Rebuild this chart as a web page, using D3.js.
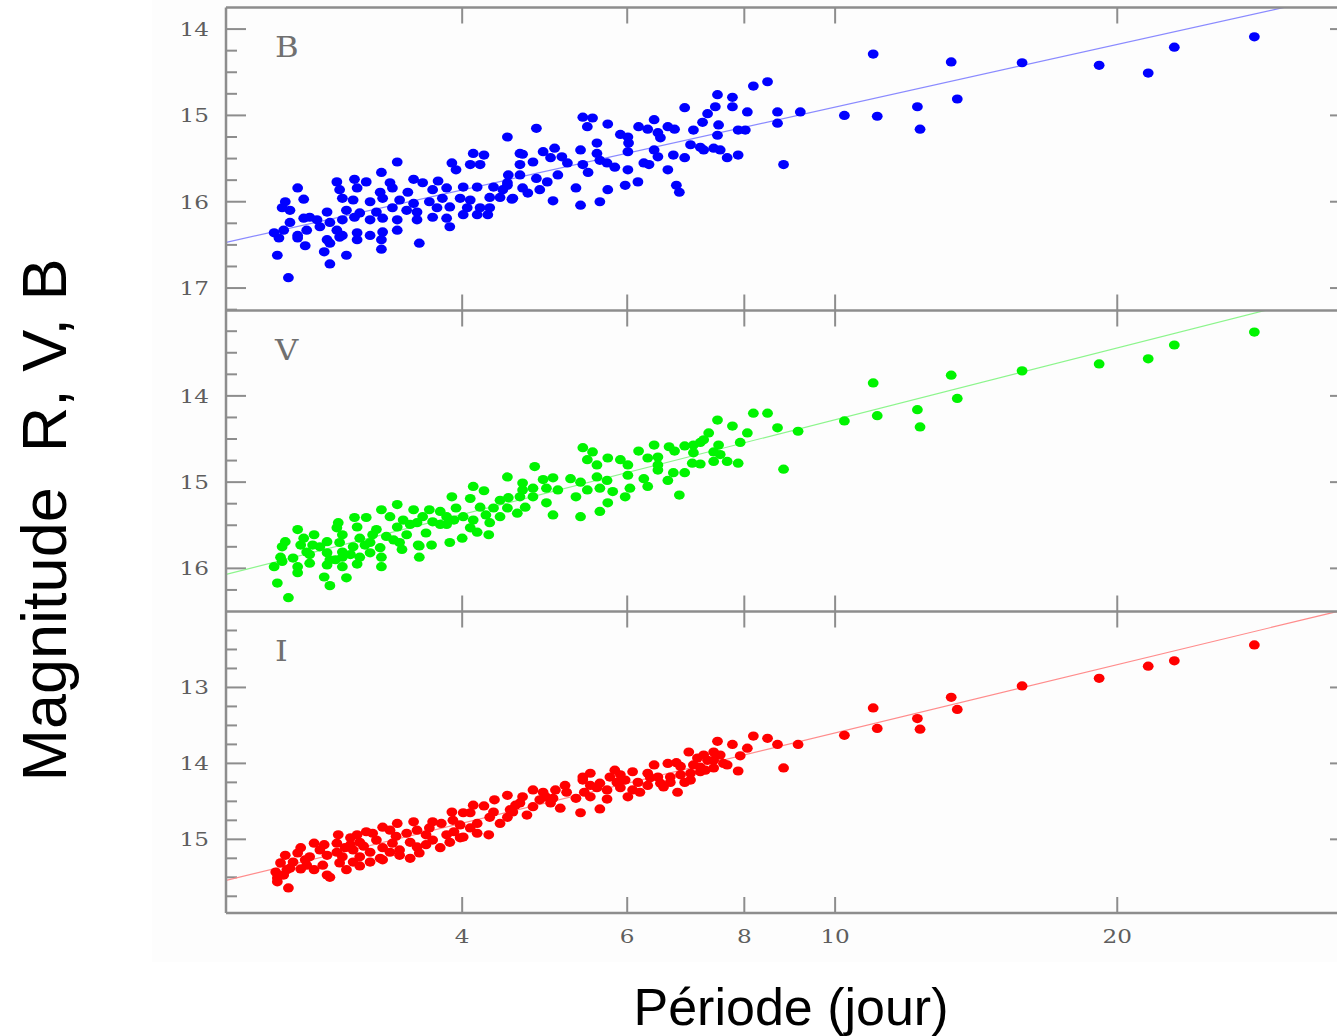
<!DOCTYPE html>
<html>
<head>
<meta charset="utf-8">
<script src="https://cdn.jsdelivr.net/npm/d3@7"></script>
<style>
  body{margin:0;background:#fff;}
  svg{display:block;}
</style>
</head>
<body>
<div id="myPlot"></div>
<script>
// period (days), magnitude
const starsB = [
  [4.47,15.25],[4.11,15.44],[4.22,15.46],[3.41,15.54],[3.90,15.55],[3.28,15.66],[3.94,15.63],[4.08,15.57],[4.18,15.57],[4.48,15.69],[4.61,15.44],
  [2.94,15.77],[3.07,15.74],[3.16,15.77],[3.35,15.78],[3.55,15.74],[3.63,15.78],[3.77,15.76],
  [2.67,15.84],[2.96,15.86],[3.09,15.84],[3.27,15.89],[3.37,15.84],[3.50,15.89],[3.72,15.86],[3.85,15.84],[4.01,15.83],[4.15,15.83],[4.32,15.83],[4.47,15.81],
  [2.71,15.97],[2.59,16.00],[2.98,15.96],[3.06,15.98],[3.19,16.00],[3.29,15.96],[3.43,15.98],[3.55,16.02],[3.69,16.00],[3.81,15.96],[3.98,15.96],[4.08,15.98],[4.28,15.95],[4.39,15.95],[4.53,15.96],
  [2.57,16.07],[2.62,16.10],[2.87,16.12],[3.01,16.10],[3.11,16.13],[3.24,16.12],[3.37,16.07],[3.49,16.10],[3.58,16.12],[3.76,16.07],[3.88,16.06],[4.05,16.07],[4.18,16.07],[4.28,16.07],
  [2.62,16.24],[2.71,16.19],[2.75,16.18],[2.80,16.21],[2.89,16.24],[2.98,16.21],[3.07,16.18],[3.19,16.21],[3.29,16.19],[3.41,16.21],[3.58,16.21],[3.72,16.18],[3.85,16.19],[4.01,16.15],[4.15,16.15],[4.26,16.15],
  [2.52,16.36],[2.58,16.33],[2.67,16.39],[2.73,16.33],[2.82,16.29],[2.94,16.33],[2.98,16.39],[3.09,16.36],[3.19,16.39],[3.29,16.35],[3.41,16.33],[3.88,16.29],
  [2.55,16.42],[2.67,16.42],[2.87,16.44],[2.96,16.41],[3.09,16.44],[3.28,16.44],
  [2.72,16.51],[2.89,16.48],[3.60,16.48],[2.85,16.58],[3.28,16.55],[2.54,16.62],[3.01,16.62],[2.89,16.72],[2.61,16.88],
  [8.18,14.66],[8.47,14.61],[7.49,14.76],[7.77,14.79],[6.91,14.91],[7.45,14.90],[7.77,14.90],[8.06,14.96],[8.68,14.96],[9.18,14.96],
  [5.38,15.02],[5.51,15.03],[7.31,14.98],[6.41,15.05],[7.22,15.08],[7.51,15.11],[8.68,15.09],
  [4.80,15.15],[5.44,15.13],[5.72,15.10],[6.17,15.13],[6.31,15.16],[6.63,15.13],[6.74,15.16],
  [5.90,15.22],[6.01,15.25],[6.47,15.20],[6.51,15.26],[7.06,15.17],[7.49,15.23],[7.88,15.17],[8.02,15.17],
  [5.57,15.32],[6.02,15.32],[7.01,15.34],[7.18,15.37],
  [4.64,15.45],[4.88,15.42],[5.02,15.38],[5.35,15.40],[5.57,15.44],[6.01,15.42],[6.41,15.40],[6.47,15.48],[6.72,15.46],[6.91,15.49],[7.24,15.40],[7.42,15.38],[7.54,15.40],[7.88,15.46],[7.67,15.49],
  [4.61,15.57],[4.76,15.54],[4.97,15.49],[5.11,15.48],[5.18,15.55],[5.38,15.57],[5.45,15.66],[5.61,15.52],[5.71,15.55],[5.82,15.60],[6.01,15.63],[6.25,15.55],[6.33,15.57],[6.63,15.63],[8.81,15.57],
  [4.47,15.78],[4.61,15.69],[4.80,15.73],[4.93,15.77],[5.06,15.69],[5.29,15.84],[5.72,15.86],[5.97,15.81],[6.16,15.77],[6.77,15.81],[6.82,15.89],
  [4.42,15.86],[4.64,15.84],[4.70,15.90],[4.84,15.86],
  [4.52,15.97],[5.00,15.99],[5.35,16.04],[5.61,16.00],
  [10.23,15.00],[10.98,14.29],[11.09,15.01],[12.24,14.90],[12.32,15.16],[13.30,14.38],[13.50,14.81],[15.83,14.39],[19.13,14.42],[21.58,14.51],[23.01,14.21],[28.01,14.09]
];
const starsV = [
  [4.47,14.94],[4.11,15.05],[4.22,15.10],[3.90,15.17],[3.41,15.26],[4.48,15.18],[4.08,15.19],
  [3.28,15.32],[3.55,15.32],[3.79,15.34],[3.94,15.30],[4.18,15.29],[4.32,15.30],
  [3.16,15.41],[3.07,15.41],[2.95,15.47],[3.35,15.40],[3.46,15.44],[3.63,15.40],[3.85,15.40],[4.01,15.40],[4.39,15.40],[4.58,15.36],
  [2.67,15.55],[2.94,15.53],[3.09,15.52],[3.24,15.55],[3.41,15.52],[3.58,15.47],[3.72,15.46],[3.85,15.49],[4.11,15.44],[4.28,15.47],
  [2.71,15.65],[2.87,15.69],[2.98,15.61],[3.11,15.65],[3.21,15.61],[3.32,15.63],[3.49,15.61],[3.66,15.59],[4.08,15.53],[4.15,15.58],
  [2.59,15.69],[2.77,15.73],[2.82,15.75],[2.96,15.70],[3.06,15.75],[3.19,15.70],[3.27,15.76],[3.43,15.70],[3.59,15.73],[3.71,15.73],[3.88,15.70],[4.00,15.65],[4.27,15.61],
  [2.57,15.75],[2.73,15.81],[2.87,15.82],[2.98,15.81],[3.19,15.82],[3.45,15.78],[3.60,15.74],
  [2.56,15.87],[2.64,15.88],[2.75,15.84],[2.89,15.90],[2.98,15.87],[3.11,15.87],[3.28,15.87],[3.60,15.87],
  [2.52,15.98],[2.57,15.92],[2.67,15.98],[2.75,15.94],[2.87,15.96],[2.98,15.98],[3.09,15.95],[3.28,15.98],
  [2.67,16.05],[2.85,16.10],[3.01,16.11],[2.54,16.17],[2.89,16.20],[2.61,16.34],
  [2.69,15.73],[2.78,15.61],[3.04,15.84],[3.15,15.73],[3.38,15.67],[3.52,15.49],[3.79,15.49],[3.92,15.44],[3.69,15.32],[4.24,15.38],[4.39,15.21],[2.93,15.90],
  [8.18,14.20],[8.47,14.20],[7.49,14.28],[7.77,14.35],[8.06,14.43],[8.68,14.37],[9.13,14.41],
  [7.33,14.43],[7.24,14.51],[7.51,14.57],[7.92,14.54],
  [5.38,14.60],[5.51,14.65],[6.17,14.64],[6.41,14.57],[6.65,14.59],[6.91,14.58],[7.06,14.57],[7.18,14.54],
  [5.44,14.74],[5.72,14.72],[5.90,14.74],[6.31,14.72],[6.47,14.71],[6.74,14.64],[7.06,14.66],[7.42,14.65],[7.54,14.68],
  [4.78,14.82],[5.57,14.80],[6.01,14.80],[6.47,14.80],[7.04,14.78],[7.18,14.79],[7.42,14.76],[7.67,14.76],[7.88,14.78],
  [4.64,15.01],[4.88,14.97],[5.00,14.95],[5.22,14.96],[5.35,15.00],[5.57,14.94],[5.71,14.98],[6.01,14.92],[6.25,14.96],[6.47,14.86],[6.72,14.89],[6.91,14.89],[6.63,14.98],
  [4.64,15.09],[4.76,15.07],[4.92,15.07],[5.06,15.09],[5.44,15.09],[5.61,15.07],[5.79,15.11],[6.04,15.07],[6.31,15.05],
  [4.61,15.17],[4.76,15.17],[5.29,15.17],[5.97,15.17],[6.82,15.15],
  [4.47,15.30],[4.67,15.29],[4.92,15.24],[5.72,15.24],[5.61,15.34],[5.35,15.40],[5.00,15.38],
  [8.81,14.85],[10.23,14.29],[10.98,13.85],[11.09,14.23],[12.24,14.16],[12.32,14.36],[13.30,13.76],[13.50,14.03],[15.83,13.71],[19.13,13.63],[21.58,13.57],[23.01,13.41],[28.01,13.26]
];
const starsI = [
  [4.47,14.42],[4.11,14.55],[4.22,14.56],[4.32,14.64],[4.53,14.64],[3.90,14.64],[4.01,14.65],[4.08,14.65],
  [3.72,14.77],[3.80,14.79],[3.91,14.75],[3.98,14.81],[4.15,14.79],[4.28,14.71],[4.47,14.71],
  [3.41,14.79],[3.55,14.77],[3.29,14.84],[3.16,14.90],
  [2.95,14.94],[3.09,14.94],[3.21,14.92],[3.35,14.88],[3.49,14.92],[3.58,14.88],[3.66,14.94],[3.85,14.94],[4.01,14.97],[4.15,14.92],[4.27,14.94],
  [2.94,15.05],[3.04,15.07],[3.11,15.04],[3.24,15.01],[3.37,15.05],[3.52,15.04],[3.72,15.01],[3.88,15.04],[3.98,14.98],
  [2.82,15.14],[2.94,15.17],[3.06,15.14],[3.19,15.17],[3.29,15.11],[3.43,15.14],[3.58,15.10],[3.66,15.07],
  [2.59,15.21],[2.67,15.18],[2.75,15.23],[2.87,15.21],[2.98,15.23],[3.11,15.23],[3.27,15.25],[3.43,15.21],[3.60,15.18],
  [2.56,15.31],[2.64,15.30],[2.73,15.34],[2.84,15.34],[2.96,15.31],[3.06,15.30],[3.19,15.30],
  [2.53,15.43],[2.60,15.40],[2.69,15.39],[2.87,15.47],[3.01,15.40],[3.29,15.27],
  [2.54,15.51],[2.89,15.50],[2.61,15.64],[2.54,15.56],
  [2.69,15.11],[2.78,15.05],[3.00,15.11],[3.14,15.09],[3.35,15.17],[3.52,15.25],[3.79,15.11],[3.92,14.90],[4.08,14.85],[4.39,14.79],[4.56,14.55],[4.33,14.48],
  [3.69,14.85],[3.40,14.96],[3.04,14.98],[2.85,15.07],[2.72,15.27],[2.62,15.38],[2.58,15.47],[2.78,15.40],[3.11,15.35],
  [8.18,13.64],[8.47,13.67],[8.68,13.75],[9.13,13.75],[7.49,13.71],[7.77,13.75],[8.06,13.80],
  [7.42,13.85],[7.24,13.89],[7.92,13.90],[7.54,13.89],[7.13,13.93],[7.31,13.96],[7.42,13.96],[7.60,14.00],[7.67,14.02],
  [6.41,14.02],[6.63,14.00],[6.84,14.04],[7.06,14.02],[7.18,14.05],[7.42,14.06],[7.18,14.11],[7.01,14.13],[7.88,14.10],[8.81,14.06],
  [5.38,14.18],[5.48,14.13],[5.75,14.18],[5.90,14.15],[6.08,14.11],[6.31,14.13],[6.47,14.18],[6.67,14.18],[6.84,14.15],
  [5.38,14.22],[5.61,14.26],[5.85,14.25],[6.16,14.25],[6.51,14.26],[6.67,14.25],[6.91,14.25],
  [4.76,14.35],[4.88,14.38],[5.03,14.35],[5.17,14.38],[5.40,14.38],[5.57,14.32],[5.71,14.35],[5.90,14.32],[6.08,14.35],[6.31,14.29],[6.56,14.31],[6.79,14.38],
  [4.64,14.44],[4.84,14.48],[5.00,14.46],[5.29,14.46],[5.48,14.44],[5.71,14.47],[6.01,14.44],
  [4.50,14.61],[4.61,14.52],[4.76,14.57],[4.97,14.52],[5.09,14.59],[5.35,14.65],[5.61,14.60],[4.69,14.68],
  [5.15,14.29],[5.48,14.29],[5.97,14.22],[6.35,14.19],[7.01,14.22],[7.27,14.09],[6.19,14.38],[4.91,14.44],[5.82,14.09],[6.77,13.99],[6.98,13.85],
  [10.23,13.63],[10.98,13.27],[11.09,13.54],[12.24,13.41],[12.32,13.55],[13.30,13.13],[13.50,13.29],[15.83,12.98],[19.13,12.88],[21.58,12.72],[23.01,12.65],[28.01,12.44]
];

// fitted P-L lines, end points (period, mag)
const fitB = [[2.24,16.47],[35.4,13.58]];
const fitV = [[2.24,16.07],[35.4,12.76]];
const fitI = [[2.24,15.54],[35.4,11.96]];

const periodDomain = [2.239, 35.43];
const periodTicks = [4, 6, 8, 10, 20];
const magDomainB = [13.75, 17.26];
const magDomainV = [13.01, 16.50];
const magDomainI = [12.00, 15.97];
const magTicksB = [14, 15, 16, 17];
const magTicksV = [14, 15, 16];
const magTicksI = [13, 14, 15];

const chartW = 1337, chartH = 1036;
const plotLeft = 226, plotRight = 1350;
const panelEdges = [7.5, 310.5, 611.5, 913];
const frameColor = "#8d8d8d";
const labelColor = "#5e5e5e";

const panels = [
  {name:"B", stars:starsB, fit:fitB, dom:magDomainB, ticks:magTicksB, dot:"#0000ff", line:"#8a8aff"},
  {name:"V", stars:starsV, fit:fitV, dom:magDomainV, ticks:magTicksV, dot:"#00f400", line:"#8cf58c"},
  {name:"I", stars:starsI, fit:fitI, dom:magDomainI, ticks:magTicksI, dot:"#ff0000", line:"#ff8c8c"}
];

const svg = d3.select("#myPlot").append("svg")
  .attr("width", chartW)
  .attr("height", chartH);

svg.append("rect")
  .attr("x", 152).attr("y", 0)
  .attr("width", chartW - 152).attr("height", 962)
  .attr("fill", "#fdfdfd");

const x = d3.scaleLog().domain(periodDomain).range([plotLeft, plotRight]);

panels.forEach((p, i) => {
  const top = panelEdges[i], bottom = panelEdges[i+1];
  const y = d3.scaleLinear().domain(p.dom).range([top, bottom]);
  const g = svg.append("g").attr("class", "panel");

  const clipId = "clip" + i;
  svg.append("clipPath").attr("id", clipId)
    .append("rect")
    .attr("x", plotLeft).attr("y", top)
    .attr("width", plotRight - plotLeft).attr("height", bottom - top);

  // minor/major ticks on both sides
  const minor = d3.range(Math.ceil(p.dom[0]*4)/4, p.dom[1], 0.25)
    .filter(v => v > p.dom[0] + 0.01);
  const tk = g.append("g").attr("stroke", frameColor).attr("stroke-width", 2);
  minor.forEach(v => {
    const len = Number.isInteger(v) ? 20 : 11;
    tk.append("line")
      .attr("x1", plotLeft).attr("x2", plotLeft + len)
      .attr("y1", y(v)).attr("y2", y(v));
    tk.append("line")
      .attr("x1", plotRight).attr("x2", plotRight - len)
      .attr("y1", y(v)).attr("y2", y(v));
  });
  periodTicks.forEach(t => {
    tk.append("line")
      .attr("x1", x(t)).attr("x2", x(t))
      .attr("y1", top).attr("y2", top + 16);
    tk.append("line")
      .attr("x1", x(t)).attr("x2", x(t))
      .attr("y1", bottom).attr("y2", bottom - 16);
  });

  g.selectAll(".ylab")
    .data(p.ticks)
    .enter()
    .append("text")
    .attr("class", "ylab")
    .attr("transform", d => "translate(209," + (y(d) + 7) + ") scale(1.22,1)")
    .attr("text-anchor", "end")
    .attr("fill", labelColor)
    .style("font-family", "'DejaVu Serif', serif")
    .style("font-size", "19px")
    .text(d => d);

  g.append("text")
    .attr("transform", "translate(275," + (top + 49) + ") scale(1.15,1)")
    .attr("fill", "#707070")
    .style("font-family", "'DejaVu Serif', serif")
    .style("font-size", "28px")
    .text(p.name);

  g.append("path")
    .datum(p.fit)
    .attr("clip-path", "url(#" + clipId + ")")
    .attr("fill", "none")
    .attr("stroke", p.line)
    .attr("stroke-width", 1.2)
    .attr("d", d3.line().x(d => x(d[0])).y(d => y(d[1])));

  g.append("g")
    .attr("clip-path", "url(#" + clipId + ")")
    .selectAll("ellipse")
    .data(p.stars)
    .enter()
    .append("ellipse")
    .attr("cx", d => x(d[0]))
    .attr("cy", d => y(d[1]))
    .attr("rx", 5.4)
    .attr("ry", 4.6)
    .attr("fill", p.dot);
});

// frame
const frame = svg.append("g").attr("stroke", frameColor).attr("stroke-width", 2.5).attr("fill", "none");
frame.append("line").attr("x1", plotLeft).attr("x2", plotLeft).attr("y1", panelEdges[0]).attr("y2", panelEdges[3]);
frame.append("line").attr("x1", plotRight).attr("x2", plotRight).attr("y1", panelEdges[0]).attr("y2", panelEdges[3]);
panelEdges.forEach(e => {
  frame.append("line").attr("x1", plotLeft).attr("x2", plotRight).attr("y1", e).attr("y2", e);
});

svg.selectAll(".xlab")
  .data(periodTicks)
  .enter()
  .append("text")
  .attr("class", "xlab")
  .attr("transform", d => "translate(" + x(d) + ",943) scale(1.22,1)")
  .attr("text-anchor", "middle")
  .attr("fill", labelColor)
  .style("font-family", "'DejaVu Serif', serif")
  .style("font-size", "19px")
  .text(d => d);

svg.append("text")
  .attr("transform", "translate(66,520) rotate(-90)")
  .attr("text-anchor", "middle")
  .attr("fill", "#000")
  .style("white-space", "pre")
  .style("font-family", "'Liberation Sans', Arial, sans-serif")
  .style("font-size", "63px")
  .text("Magnitude  R, V, B");

svg.append("text")
  .attr("x", 791).attr("y", 1025)
  .attr("text-anchor", "middle")
  .attr("fill", "#000")
  .style("font-family", "'Liberation Sans', Arial, sans-serif")
  .style("font-size", "52px")
  .text("Période (jour)");
</script>
</body>
</html>
